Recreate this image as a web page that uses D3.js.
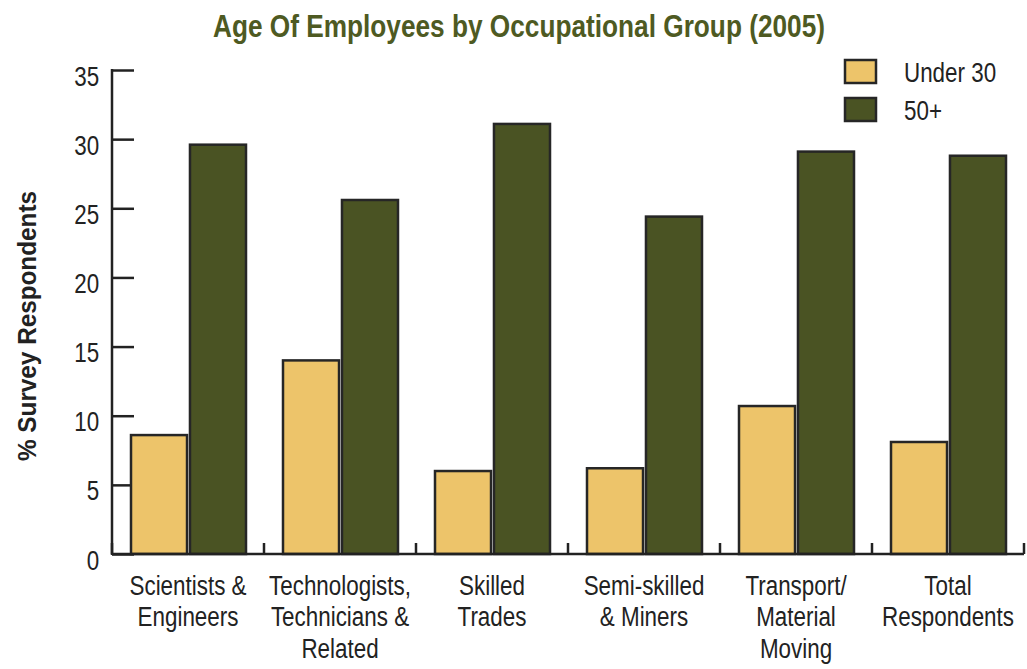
<!DOCTYPE html>
<html>
<head>
<meta charset="utf-8">
<script src="https://d3js.org/d3.v7.min.js"></script>
<style>
body { margin: 0; background: #fff; }
text { font-family: "Liberation Sans Narrow", "Arial Narrow", "Liberation Sans", Arial, sans-serif; fill: #222; }
</style>
</head>
<body>
<div id="chart"></div>
<script>
// chart data
var categories = [
  ["Scientists &", "Engineers"],
  ["Technologists,", "Technicians &", "Related"],
  ["Skilled", "Trades"],
  ["Semi-skilled", "& Miners"],
  ["Transport/", "Material", "Moving"],
  ["Total", "Respondents"]
];
var seriesNames = ["Under 30", "50+"];
var under30 = [8.6, 14.0, 6.0, 6.2, 10.7, 8.1];
var over50 = [29.6, 25.6, 31.1, 24.4, 29.1, 28.8];
var yTicks = [0, 5, 10, 15, 20, 25, 30, 35];
var colors = ["#EDC46A", "#4A5323"];

var W = 1027, H = 669;
var margin = {top: 70, right: 3, bottom: 115, left: 112};
var width = W - margin.left - margin.right,
    height = H - margin.top - margin.bottom;
var narrow = 0.8;   // fake a condensed face

var svg = d3.select("#chart").append("svg")
  .attr("width", W).attr("height", H);

// title
svg.append("text")
  .attr("x", 519).attr("y", 37)
  .attr("text-anchor", "middle")
  .style("font-size", "31px")
  .style("font-weight", "bold")
  .style("fill", "#4E5A22")
  .attr("textLength", 612)
  .attr("lengthAdjust", "spacingAndGlyphs")
  .text("Age Of Employees by Occupational Group (2005)");

// y label
svg.append("text")
  .attr("transform", "translate(36," + 326 + ") rotate(-90)")
  .attr("text-anchor", "middle")
  .style("font-size", "25px")
  .style("font-weight", "bold")
  .attr("textLength", 270)
  .attr("lengthAdjust", "spacingAndGlyphs")
  .text("% Survey Respondents");

var g = svg.append("g")
  .attr("transform", "translate(" + margin.left + "," + margin.top + ")");

var idx = d3.range(categories.length);
var x0 = d3.scaleBand().domain(idx).range([0, width]);
var x1 = d3.scaleBand().domain([0, 1]).range([19, x0.bandwidth() - 18]).paddingInner(0.05);
var y = d3.scaleLinear().domain([0, 35]).range([height, 0]);

// y ticks pointing inward
var yAxis = g.append("g")
  .call(d3.axisLeft(y).tickValues(yTicks).tickSize(-22).tickPadding(0));
yAxis.select(".domain").remove();
yAxis.selectAll(".tick line").attr("stroke", "#222").attr("stroke-width", 2.5);
yAxis.selectAll(".tick text")
  .style("font-size", "28px")
  .attr("x", -16)
  .attr("dy", null)
  .attr("y", 15)
  .attr("transform", "scale(" + narrow + ",1)")
  .style("fill", "#222");

// y axis line
g.append("line")
  .attr("x1", 0).attr("x2", 0).attr("y1", y(35) - 1).attr("y2", height + 1)
  .attr("stroke", "#222").attr("stroke-width", 2.5);

// bars
var groups = g.selectAll(".grp")
  .data(idx).enter().append("g")
  .attr("transform", function(i) { return "translate(" + x0(i) + ",0)"; });

groups.selectAll("rect")
  .data(function(i) { return [under30[i], over50[i]]; })
  .enter().append("rect")
  .attr("x", function(d, j) { return x1(j); })
  .attr("y", function(d) { return y(d); })
  .attr("width", x1.bandwidth())
  .attr("height", function(d) { return height - y(d); })
  .attr("fill", function(d, j) { return colors[j]; })
  .attr("stroke", "#262626")
  .attr("stroke-width", 2.5);

// x axis baseline + boundary ticks pointing up
g.append("line")
  .attr("x1", 0).attr("x2", width).attr("y1", height).attr("y2", height)
  .attr("stroke", "#222").attr("stroke-width", 2.5);
var bounds = idx.map(function(i) { return x0(i); }).concat([width]);
g.selectAll(".xt").data(bounds).enter().append("line")
  .attr("x1", function(d) { return d; }).attr("x2", function(d) { return d; })
  .attr("y1", height - 11).attr("y2", height)
  .attr("stroke", "#222").attr("stroke-width", 2.5);

// category labels
g.selectAll(".cat").data(idx).enter().append("g")
  .attr("transform", function(i) {
    return "translate(" + (x0(i) + x0.bandwidth() / 2) + "," + (height + 41) + ") scale(" + narrow + ",1)";
  })
  .append("text")
  .attr("text-anchor", "middle")
  .style("font-size", "28px")
  .each(function(i) {
    var t = d3.select(this);
    categories[i].forEach(function(line, k) {
      t.append("tspan")
        .attr("x", 0)
        .attr("dy", k === 0 ? 0 : 31.5)
        .text(line);
    });
  });

// legend
var legend = svg.append("g").attr("transform", "translate(845,60)");
seriesNames.forEach(function(name, k) {
  legend.append("rect")
    .attr("x", 0).attr("y", k * 38)
    .attr("width", 31).attr("height", 23)
    .attr("fill", colors[k])
    .attr("stroke", "#262626").attr("stroke-width", 2.5);
  legend.append("g")
    .attr("transform", "translate(59," + (k * 38 + 22) + ") scale(" + narrow + ",1)")
    .append("text")
    .style("font-size", "28px")
    .text(name);
});
</script>
</body>
</html>
